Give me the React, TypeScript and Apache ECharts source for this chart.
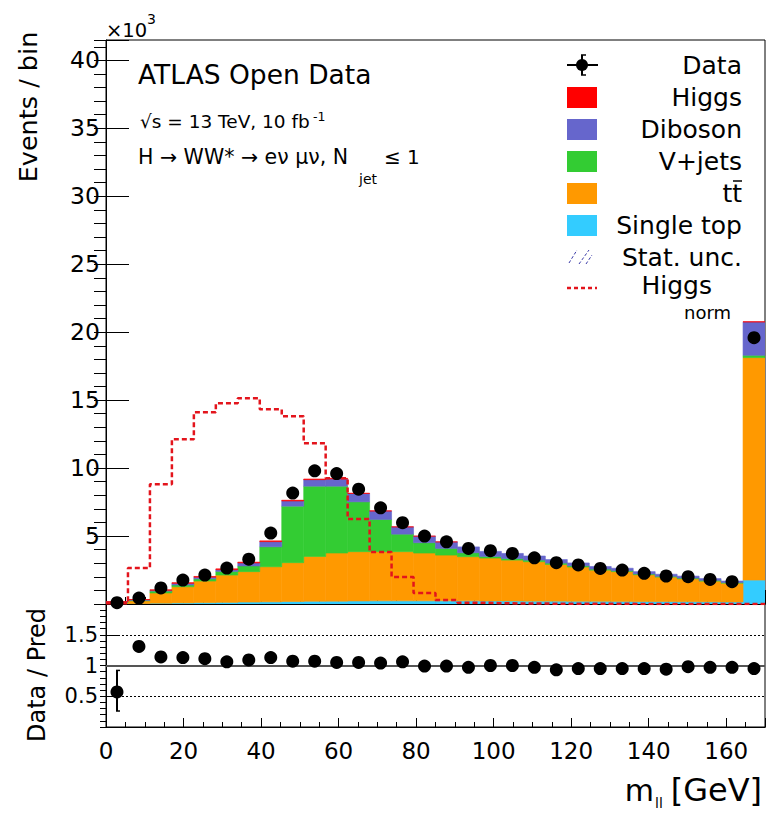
import React, { useEffect, useRef } from 'react';
import * as echarts from 'echarts';

const X_MIN = 0;
const X_MAX = 170;
const N_BINS = 30;

// Stacked MC components (events / bin), bottom to top
const singleTop = [10, 20, 60, 80, 100, 120, 140, 160, 180, 200, 210, 220, 230, 230, 230, 230, 230, 220, 220, 210, 210, 200, 200, 190, 180, 180, 170, 160, 150, 1760];
const ttbar = [60, 210, 750, 1190, 1590, 2010, 2240, 2580, 2860, 3300, 3540, 3630, 3620, 3620, 3520, 3370, 3250, 3160, 3010, 2900, 2700, 2520, 2290, 2190, 1970, 1800, 1680, 1520, 1380, 16370];
const vjets = [60, 40, 140, 130, 160, 270, 420, 1470, 4160, 5170, 4920, 3670, 2370, 1290, 760, 490, 290, 120, 120, 120, 100, 90, 80, 70, 60, 60, 60, 60, 50, 170];
const diboson = [40, 50, 60, 120, 120, 130, 220, 380, 380, 480, 540, 610, 620, 530, 480, 480, 430, 370, 370, 300, 260, 210, 190, 180, 170, 150, 140, 130, 110, 2450];
const higgs = [5, 10, 35, 48, 56, 59, 60, 57, 55, 47, 37, 25, 15, 8, 3, 1, 0, 0, 0, 0, 0, 0, 0, 0, 0, 0, 0, 0, 0, 20];

const dataCounts = [100, 440, 1180, 1760, 2130, 2640, 3300, 5220, 8160, 9800, 9600, 8450, 7080, 5980, 5000, 4580, 4090, 3920, 3720, 3400, 3040, 2870, 2620, 2500, 2260, 2060, 2010, 1810, 1640, 19600];
const higgsNorm = [50, 2640, 8820, 12130, 14110, 14770, 15140, 14330, 13820, 11830, 9260, 6250, 3820, 1980, 810, 290, 100, 60, 40, 30, 20, 15, 10, 10, 5, 5, 5, 5, 5, 5];

const ratio = [0.57, 1.31, 1.14, 1.13, 1.11, 1.06, 1.09, 1.13, 1.07, 1.07, 1.05, 1.05, 1.04, 1.06, 0.99, 0.99, 0.97, 1.0, 1.0, 0.97, 0.93, 0.95, 0.95, 0.95, 0.95, 0.94, 0.98, 0.97, 0.97, 0.95];
const ratioErrBins = [0, 1];
const ratioErrLow = [0.26, 1.23];
const ratioErrHigh = [0.92, 1.39];

const yMainTickLabels = [5, 10, 15, 20, 25, 30, 35, 40];
const yRatioTickLabels = [0.5, 1, 1.5];
const xTickLabels = [0, 20, 40, 60, 80, 100, 120, 140, 160];

const legendLabels = ['Data', 'Higgs', 'Diboson', 'V+jets', 'tt', 'Single top', 'Stat. unc.', 'Higgs'];

const COLORS = {
  singleTop: '#33ccff',
  ttbar: '#ff9900',
  vjets: '#33cc33',
  diboson: '#6666cc',
  higgs: '#ff0000',
  norm: '#e3141c',
};

const FONT = 'DejaVu Sans';

export default function App() {
  const ref = useRef<HTMLDivElement>(null);

  useEffect(() => {
    const chart = echarts.init(ref.current as HTMLDivElement, null, { renderer: 'svg' });

    const binW = (X_MAX - X_MIN) / N_BINS;
    const edges: number[] = [];
    for (let i = 0; i <= N_BINS; i++) edges.push(X_MIN + i * binW);
    const centers = edges.slice(0, N_BINS).map((e) => e + binW / 2);

    const comps = [
      { name: 'Single top', values: singleTop, color: COLORS.singleTop },
      { name: 'ttbar', values: ttbar, color: COLORS.ttbar },
      { name: 'V+jets', values: vjets, color: COLORS.vjets },
      { name: 'Diboson', values: diboson, color: COLORS.diboson },
      { name: 'Higgs', values: higgs, color: COLORS.higgs },
    ];
    const base = new Array(N_BINS).fill(0);
    const stackSeries = comps.map((c) => {
      const rows = c.values.map((v, i) => {
        const row = [edges[i], edges[i + 1], base[i], base[i] + v];
        base[i] += v;
        return row;
      });
      return {
        type: 'custom',
        name: c.name,
        xAxisIndex: 0,
        yAxisIndex: 0,
        silent: true,
        clip: true,
        z: 2,
        encode: { x: [0, 1], y: [2, 3] },
        data: rows,
        renderItem: (params: any, api: any) => {
          const y0 = api.value(2);
          const y1 = api.value(3);
          if (y1 - y0 <= 0) return null;
          const a = api.coord([api.value(0), y1]);
          const b = api.coord([api.value(1), y0]);
          return {
            type: 'rect',
            shape: { x: a[0], y: a[1], width: b[0] - a[0], height: b[1] - a[1] },
            style: { fill: c.color, stroke: c.color, lineWidth: 0.6 },
          };
        },
      };
    });

    const normLine = edges.slice(0, N_BINS).map((e, i) => [e, higgsNorm[i]]);
    normLine.push([X_MAX, higgsNorm[N_BINS - 1]]);

    const errRows = ratioErrBins.map((b, k) => [centers[b], ratioErrLow[k], ratioErrHigh[k]]);

    const txt = (text: string, x: number, y: number, size: number, align: string = 'left', extra: any = {}) => ({
      type: 'text',
      x,
      y,
      z: 10,
      silent: true,
      ...extra,
      style: {
        text,
        fontFamily: FONT,
        fontSize: size,
        fill: '#000',
        align,
        verticalAlign: 'middle',
        textAlign: align,
        textVerticalAlign: 'middle',
      },
    });

    const LX0 = 567;
    const LX1 = 597;
    const LTX = 742;
    const legendY = (i: number) => 65 + 32 * i;
    const boxColors = [COLORS.higgs, COLORS.diboson, COLORS.vjets, COLORS.ttbar, COLORS.singleTop];

    const graphics: any[] = [];
    // header texts
    graphics.push(txt('×10', 106, 30, 19.5));
    graphics.push(txt('3', 147, 19, 14));
    graphics.push(txt('ATLAS Open Data', 138, 74, 26.5));
    graphics.push(txt('√s = 13 TeV, 10 fb', 140, 121.5, 18.5));
    graphics.push(txt('-1', 313, 116, 12.5));
    graphics.push(txt('H → WW* → eν μν, N', 138, 157, 20.5));
    graphics.push(txt('jet', 359, 179, 14));
    graphics.push(txt('≤ 1', 384, 157, 20));
    // axis titles
    graphics.push(txt('Events / bin', 28, 107, 25.5, 'center', { rotation: Math.PI / 2 }));
    graphics.push(txt('Data / Pred', 37, 675, 24, 'center', { rotation: Math.PI / 2 }));
    graphics.push(txt('[GeV]', 762, 790, 32, 'right'));
    graphics.push(txt('ll', 655, 803, 14));
    graphics.push(txt('m', 654, 790, 30, 'right'));

    // legend
    legendLabels.forEach((lab, i) => {
      if (i === 7) {
        graphics.push(txt(lab, 712, 285, 25, 'right'));
        graphics.push(txt('norm', 684, 312, 18));
      } else {
        graphics.push(txt(lab, LTX, legendY(i), 25, 'right'));
      }
    });
    // ttbar overline
    graphics.push({ type: 'line', z: 10, silent: true, shape: { x1: 733, y1: 181, x2: 742, y2: 181 }, style: { stroke: '#000', lineWidth: 1.5 } });
    // data marker
    const dy = legendY(0);
    graphics.push({ type: 'line', z: 10, silent: true, shape: { x1: LX0, y1: dy, x2: LX1 + 1, y2: dy }, style: { stroke: '#000', lineWidth: 2 } });
    graphics.push({ type: 'line', z: 10, silent: true, shape: { x1: 582, y1: dy - 10, x2: 582, y2: dy + 10 }, style: { stroke: '#000', lineWidth: 2 } });
    graphics.push({ type: 'line', z: 10, silent: true, shape: { x1: 581, y1: dy - 10, x2: 586, y2: dy - 10 }, style: { stroke: '#000', lineWidth: 1.5 } });
    graphics.push({ type: 'line', z: 10, silent: true, shape: { x1: 581, y1: dy + 10, x2: 586, y2: dy + 10 }, style: { stroke: '#000', lineWidth: 1.5 } });
    graphics.push({ type: 'circle', z: 10, silent: true, shape: { cx: 582, cy: dy, r: 6 }, style: { fill: '#000' } });
    boxColors.forEach((c, k) => {
      const cy = legendY(k + 1);
      graphics.push({ type: 'rect', z: 10, silent: true, shape: { x: LX0, y: cy - 10, width: LX1 - LX0, height: 21 }, style: { fill: c } });
    });
    // stat unc hatch
    const sy = legendY(6);
    [[569, sy + 6, 577, sy - 7], [579, sy + 7, 589, sy - 7], [586, sy + 7, 592, sy - 2]].forEach((l) => {
      graphics.push({ type: 'line', z: 10, silent: true, shape: { x1: l[0], y1: l[1], x2: l[2], y2: l[3] }, style: { stroke: '#3a3aa8', lineWidth: 1, lineDash: [3, 2] } });
    });
    // higgs norm line
    graphics.push({ type: 'line', z: 10, silent: true, shape: { x1: LX0, y1: 288, x2: LX1, y2: 288 }, style: { stroke: COLORS.norm, lineWidth: 2.5, lineDash: [4, 3] } });

    const mkXAxis = (grid: number, interval: number, tickLen: number, labels: boolean) => ({
      type: 'value',
      gridIndex: grid,
      min: X_MIN,
      max: X_MAX,
      interval,
      position: 'bottom',
      axisLine: { show: true, lineStyle: { color: '#000', width: 1 } },
      axisTick: { show: true, inside: true, length: tickLen, lineStyle: { color: '#000', width: 1 } },
      splitLine: { show: false },
      axisLabel: labels
        ? {
            show: true,
            margin: 12,
            fontFamily: FONT,
            fontSize: 23,
            color: '#000',
            formatter: (v: number) => (xTickLabels.indexOf(Math.round(v)) >= 0 && Math.abs(v - Math.round(v)) < 1e-6 ? String(Math.round(v)) : ''),
          }
        : { show: false },
    });

    const option: any = {
      animation: false,
      backgroundColor: '#fff',
      textStyle: { fontFamily: FONT },
      grid: [
        { left: 106, top: 40, width: 659, height: 564, show: true, borderColor: '#000', borderWidth: 1, backgroundColor: 'transparent' },
        { left: 106, top: 604, width: 659, height: 123, show: true, borderColor: '#000', borderWidth: 1, backgroundColor: 'transparent' },
      ],
      xAxis: [
        mkXAxis(0, 20, 14, false),
        mkXAxis(0, 5, 7, false),
        mkXAxis(1, 20, 9, true),
        mkXAxis(1, 5, 5, false),
      ],
      yAxis: [
        {
          type: 'value', gridIndex: 0, min: 0, max: 41500, interval: 5000,
          axisLine: { show: true, lineStyle: { color: '#000', width: 1 } },
          axisTick: { show: true, inside: true, length: 23, lineStyle: { color: '#000' } },
          splitLine: { show: false },
          axisLabel: {
            show: true, margin: 6, fontFamily: FONT, fontSize: 23.5, color: '#000',
            formatter: (v: number) => (yMainTickLabels.indexOf(v / 1000) >= 0 ? String(v / 1000) : ''),
          },
        },
        {
          type: 'value', gridIndex: 0, min: 0, max: 41500, interval: 1000,
          axisLine: { show: false },
          axisTick: { show: true, inside: true, length: 12, lineStyle: { color: '#000' } },
          splitLine: { show: false },
          axisLabel: { show: false },
        },
        {
          type: 'value', gridIndex: 1, min: 0, max: 2, interval: 0.5,
          axisLine: { show: true, lineStyle: { color: '#000', width: 1 } },
          axisTick: { show: true, inside: true, length: 12, lineStyle: { color: '#000' } },
          splitLine: { show: false },
          axisLabel: {
            show: true, margin: 8, fontFamily: FONT, fontSize: 21, color: '#000',
            formatter: (v: number) => {
              const r = Math.round(v * 10) / 10;
              return yRatioTickLabels.indexOf(r) >= 0 ? String(r) : '';
            },
          },
        },
        {
          type: 'value', gridIndex: 1, min: 0, max: 2, interval: 0.1,
          axisLine: { show: false },
          axisTick: { show: true, inside: true, length: 6, lineStyle: { color: '#000' } },
          splitLine: { show: false },
          axisLabel: { show: false },
        },
      ],
      series: [
        ...stackSeries,
        {
          type: 'line',
          name: 'Higgs norm',
          xAxisIndex: 0,
          yAxisIndex: 0,
          step: 'end',
          data: normLine,
          symbol: 'none',
          silent: true,
          z: 4,
          lineStyle: { color: COLORS.norm, width: 2.5, type: [5, 3] },
        },
        {
          type: 'scatter',
          name: 'Data',
          xAxisIndex: 0,
          yAxisIndex: 0,
          data: dataCounts.map((v, i) => [centers[i], v]),
          symbol: 'circle',
          symbolSize: 13,
          itemStyle: { color: '#000', opacity: 1 },
          silent: true,
          z: 6,
        },
        {
          type: 'scatter',
          name: 'Ratio',
          xAxisIndex: 2,
          yAxisIndex: 2,
          data: ratio.map((v, i) => [centers[i], v]),
          symbol: 'circle',
          symbolSize: 13,
          itemStyle: { color: '#000', opacity: 1 },
          silent: true,
          z: 6,
          markLine: {
            silent: true,
            symbol: ['none', 'none'],
            label: { show: false },
            z: 3,
            data: [
              { yAxis: 1, lineStyle: { color: '#555', width: 2, type: 'solid' } },
              { yAxis: 0.5, lineStyle: { color: '#000', width: 1, type: [2, 2] } },
              { yAxis: 1.5, lineStyle: { color: '#000', width: 1, type: [2, 2] } },
            ],
          },
        },
        {
          type: 'custom',
          name: 'Ratio err',
          xAxisIndex: 2,
          yAxisIndex: 2,
          silent: true,
          z: 6,
          encode: { x: 0, y: [1, 2] },
          data: errRows,
          renderItem: (params: any, api: any) => {
            const lo = api.coord([api.value(0), api.value(1)]);
            const hi = api.coord([api.value(0), api.value(2)]);
            return {
              type: 'group',
              children: [
                { type: 'line', shape: { x1: lo[0], y1: lo[1], x2: hi[0], y2: hi[1] }, style: { stroke: '#000', lineWidth: 2 } },
                { type: 'line', shape: { x1: lo[0] - 1, y1: lo[1], x2: lo[0] + 3, y2: lo[1] }, style: { stroke: '#000', lineWidth: 1.5 } },
                { type: 'line', shape: { x1: hi[0] - 1, y1: hi[1], x2: hi[0] + 3, y2: hi[1] }, style: { stroke: '#000', lineWidth: 1.5 } },
              ],
            };
          },
        },
      ],
      graphic: { elements: graphics },
    };

    chart.setOption(option);
    return () => chart.dispose();
  }, []);

  return <div ref={ref} style={{ position: 'absolute', left: 0, top: 0, width: 769, height: 813 }} />;
}
